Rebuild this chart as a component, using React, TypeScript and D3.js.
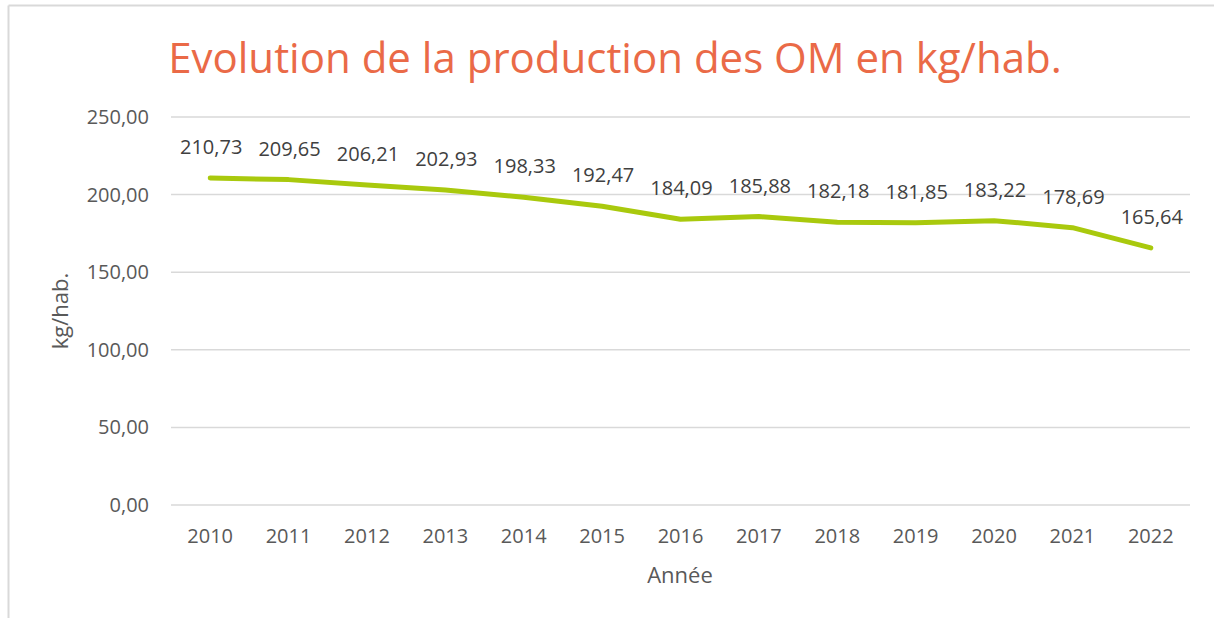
import React from "react";
import * as d3 from "d3";

const years = ["2010", "2011", "2012", "2013", "2014", "2015", "2016", "2017", "2018", "2019", "2020", "2021", "2022"];
const values = [210.73, 209.65, 206.21, 202.93, 198.33, 192.47, 184.09, 185.88, 182.18, 181.85, 183.22, 178.69, 165.64];
const yTicks = [0, 50, 100, 150, 200, 250];

const W = 1214;
const H = 618;
const FONT = "'Open Sans', sans-serif";
const TEXT = "#595959";

const fmt = (v: number) => v.toFixed(2).replace(".", ",");

const App = () => {
  const x = d3.scaleBand().domain(years).range([171, 1190]);
  const y = d3.scaleLinear().domain([0, 250]).range([505, 117]);
  const cx = (yr: string) => x(yr)! + x.bandwidth() / 2;

  const line = d3
    .line<number>()
    .x((d, i) => cx(years[i]))
    .y(d => y(d));

  return (
    <svg width={W} height={H} style={{ position: "absolute", left: 0, top: 0, display: "block", background: "#fff" }}>
      {/* frame */}
      <line x1={8.5} y1={5.5} x2={W} y2={5.5} stroke="#d9d9d9" strokeWidth={2} />
      <line x1={8.5} y1={5.5} x2={8.5} y2={H} stroke="#d9d9d9" strokeWidth={2} />

      <text x={615} y={73} textAnchor="middle" fontFamily={FONT} fontSize={42} fill="#ea6a47">
        Evolution de la production des OM en kg/hab.
      </text>

      {/* grid + y ticks */}
      {yTicks.map(t => (
        <g key={t}>
          <line x1={171} x2={1190} y1={y(t)} y2={y(t)} stroke="#d9d9d9" strokeWidth={1.5} />
          <text x={149} y={y(t) + 7} textAnchor="end" fontFamily={FONT} fontSize={20} fill={TEXT}>
            {fmt(t)}
          </text>
        </g>
      ))}

      {/* x ticks */}
      {years.map(yr => (
        <text key={yr} x={cx(yr)} y={543} textAnchor="middle" fontFamily={FONT} fontSize={20} fill={TEXT}>
          {yr}
        </text>
      ))}

      <path d={line(values)!} fill="none" stroke="#a9c90d" strokeWidth={5} strokeLinecap="round" strokeLinejoin="round" />

      {/* data labels */}
      {values.map((v, i) => (
        <text key={i} x={cx(years[i]) + 1} y={y(v) - 24} textAnchor="middle" fontFamily={FONT} fontSize={20} fill="#404040">
          {fmt(v)}
        </text>
      ))}

      <text x={680} y={583} textAnchor="middle" fontFamily={FONT} fontSize={22} fill={TEXT}>
        Année
      </text>
      <text transform="translate(68,311) rotate(-90)" textAnchor="middle" fontFamily={FONT} fontSize={22} fill={TEXT}>
        kg/hab.
      </text>
    </svg>
  );
};

export default App;
